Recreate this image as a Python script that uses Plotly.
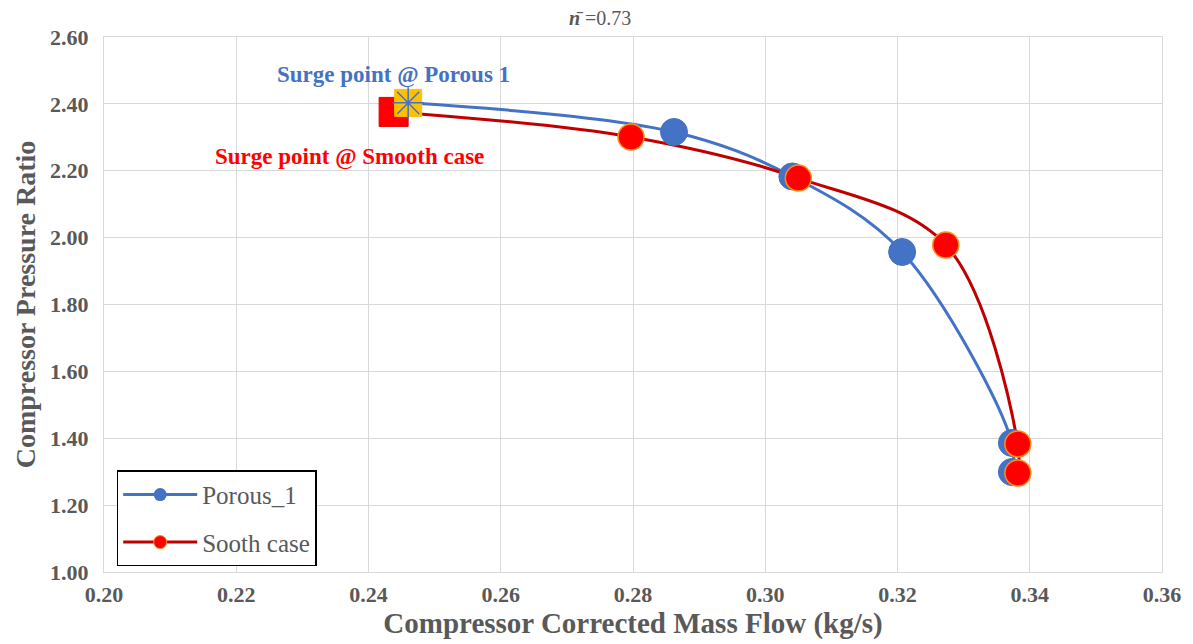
import plotly.graph_objects as go

# Compressor map data at speed n = 0.73 (first entry of each list is the surge point)
porous_flow = [0.2460, 0.2862, 0.3041, 0.3207, 0.3373, 0.3373]
porous_pr = [2.403, 2.316, 2.183, 1.957, 1.386, 1.299]

smooth_flow = [0.2438, 0.2797, 0.3050, 0.3273, 0.3382, 0.3382]
smooth_pr = [2.376, 2.301, 2.178, 1.978, 1.383, 1.296]

x_ticks = [0.20, 0.22, 0.24, 0.26, 0.28, 0.30, 0.32, 0.34, 0.36]
y_ticks = [1.00, 1.20, 1.40, 1.60, 1.80, 2.00, 2.20, 2.40, 2.60]

BLUE = "#4472C4"
DARK_RED = "#C00000"
RED = "#FF0000"
ORANGE = "#FFC000"
GREY = "#595959"
SERIF = "Liberation Serif"

fig = go.Figure()

# Smoothed characteristic lines
fig.add_trace(go.Scatter(x=porous_flow, y=porous_pr, mode="lines",
                         line=dict(color=BLUE, width=3, shape="spline", smoothing=1),
                         showlegend=False, hoverinfo="skip"))
fig.add_trace(go.Scatter(x=smooth_flow, y=smooth_pr, mode="lines",
                         line=dict(color=DARK_RED, width=3, shape="spline", smoothing=1),
                         showlegend=False, hoverinfo="skip"))

# Operating points
fig.add_trace(go.Scatter(x=porous_flow[1:], y=porous_pr[1:], mode="markers",
                         marker=dict(color=BLUE, size=27, line=dict(color=BLUE, width=1)),
                         showlegend=False))
fig.add_trace(go.Scatter(x=smooth_flow[1:], y=smooth_pr[1:], mode="markers",
                         marker=dict(color=RED, size=26, line=dict(color="#FF8C1A", width=1.5)),
                         showlegend=False))

# Surge points
fig.add_trace(go.Scatter(x=smooth_flow[:1], y=smooth_pr[:1], mode="markers",
                         marker=dict(symbol="square", color=RED, size=29,
                                     line=dict(color="#E00000", width=1)),
                         showlegend=False))
fig.add_trace(go.Scatter(x=porous_flow[:1], y=porous_pr[:1], mode="markers",
                         marker=dict(symbol="square", color=ORANGE, size=27,
                                     line=dict(color=ORANGE, width=1)),
                         showlegend=False))
fig.add_trace(go.Scatter(x=porous_flow[:1], y=porous_pr[:1], mode="markers",
                         marker=dict(symbol="asterisk-open", color=BLUE, size=26,
                                     line=dict(color=BLUE, width=1.5)),
                         showlegend=False))

# Legend entries
fig.add_trace(go.Scatter(x=[None], y=[None], mode="lines+markers", name="Porous_1",
                         legendgroup="a",
                         line=dict(color=BLUE, width=3),
                         marker=dict(color=BLUE, size=13)))
fig.add_trace(go.Scatter(x=[None], y=[None], mode="lines+markers", name="Sooth case",
                         legendgroup="b",
                         line=dict(color=DARK_RED, width=3),
                         marker=dict(color=RED, size=13, line=dict(color="#FF8C1A", width=1))))

fig.add_annotation(x=0.2438, y=2.486, xref="x", yref="y",
                   text="<b>Surge point @ Porous 1</b>", showarrow=False,
                   font=dict(family=SERIF, size=23, color=BLUE))
fig.add_annotation(x=0.2371, y=2.241, xref="x", yref="y",
                   text="<b>Surge point @ Smooth case</b>", showarrow=False,
                   font=dict(family=SERIF, size=23, color=RED))

fig.update_layout(
    width=1193, height=644,
    margin=dict(l=104, r=27, t=37, b=72),
    paper_bgcolor="white", plot_bgcolor="white",
    font=dict(family=SERIF, color=GREY),
    title=dict(text="<b><i>n</i></b>\u0304 =0.73", x=0.503, xanchor="center",
               y=0.972, yanchor="middle",
               font=dict(family=SERIF, size=20, color=GREY)),
    xaxis=dict(range=[0.20, 0.36], tickvals=x_ticks,
               ticktext=[f"<b>{v:.2f}</b>" for v in x_ticks],
               showgrid=True, gridcolor="#D9D9D9", gridwidth=1,
               zeroline=False, showline=True, linecolor="#D9D9D9", mirror=True,
               ticks="", ticklabelstandoff=3,
               tickfont=dict(family=SERIF, size=22, color=GREY),
               title=dict(text="<b>Compressor Corrected Mass Flow (kg/s)</b>",
                          font=dict(family=SERIF, size=29, color=GREY), standoff=2)),
    yaxis=dict(range=[1.00, 2.60], tickvals=y_ticks,
               ticktext=[f"<b>{v:.2f}</b>" for v in y_ticks],
               showgrid=True, gridcolor="#D9D9D9", gridwidth=1,
               zeroline=False, showline=True, linecolor="#D9D9D9", mirror=True,
               ticks="", ticklabelstandoff=10,
               tickfont=dict(family=SERIF, size=22, color=GREY),
               title=dict(text="<b>Compressor Pressure Ratio</b>",
                          font=dict(family=SERIF, size=28, color=GREY), standoff=6)),
    legend=dict(x=0.012, y=0.19, xanchor="left", yanchor="top",
                bordercolor="#000000", borderwidth=1.5, bgcolor="white",
                traceorder="grouped", tracegroupgap=12,
                font=dict(family=SERIF, size=25, color=GREY),
                itemwidth=74),
    showlegend=True,
)

fig.write_html("out.html")
